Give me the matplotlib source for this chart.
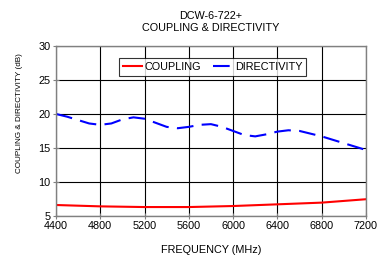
import matplotlib.pyplot as plt

plt.rcParams['font.family'] = ['Liberation Sans', 'DejaVu Sans']

freq_dir = [4400, 4500, 4600, 4700, 4800, 4900, 5000, 5100, 5200, 5300, 5400,
            5500, 5600, 5700, 5800, 5900, 6000, 6100, 6200, 6300, 6400, 6500,
            6600, 6700, 6800, 6900, 7000, 7100, 7200]
directivity = [20.0, 19.6, 19.1, 18.6, 18.4, 18.6, 19.2, 19.5, 19.3, 18.7, 18.1,
               17.9, 18.1, 18.4, 18.5, 18.1, 17.5, 16.9, 16.7, 17.0, 17.4, 17.6,
               17.5, 17.1, 16.7, 16.2, 15.7, 15.2, 14.7]
freq_cpl = [4400, 4800, 5200, 5600, 6000, 6400, 6800, 7200]
coupling = [6.6, 6.4, 6.3, 6.3, 6.45, 6.7, 6.95, 7.45]

x_ticks = [4400, 4800, 5200, 5600, 6000, 6400, 6800, 7200]
y_ticks = [5, 10, 15, 20, 25, 30]

fig = plt.figure(figsize=(3.86, 2.57), dpi=100)
ax = fig.add_axes([0.145, 0.160, 0.803, 0.661])

ax.plot(freq_cpl, coupling, color='#ff0000', lw=1.5, label='COUPLING')
ax.plot(freq_dir, directivity, color='#0000ff', lw=1.5, dashes=(8, 4),
        label='DIRECTIVITY')

ax.set_xlim(4400, 7200)
ax.set_ylim(5, 30)
ax.set_xticks(x_ticks)
ax.set_yticks(y_ticks)
ax.tick_params(labelsize=7.8, length=4, width=0.8, color='#808080', pad=2,
               direction='inout')
ax.grid(True, color='black', lw=0.8)
for s in ax.spines.values():
    s.set_color('#808080')
    s.set_linewidth(1.0)

ax.set_xlabel('FREQUENCY (MHz)', fontsize=7.8, labelpad=10)
ax.set_ylabel('COUPLING & DIRECTIVITY (dB)', fontsize=5.9)
ax.yaxis.set_label_coords(-0.106, 0.606)
ax.set_title('DCW-6-722+\nCOUPLING & DIRECTIVITY', fontsize=7.8, pad=11,
             linespacing=1.25)

leg = ax.legend(loc='upper center', bbox_to_anchor=(0.505, 0.96), ncol=2,
                fontsize=7.8, frameon=True, fancybox=False, handlelength=1.8,
                handletextpad=0.2, columnspacing=1.1, borderpad=0.35)
leg.get_frame().set_edgecolor('black')
leg.get_frame().set_linewidth(0.8)

fig.savefig('out.png', dpi=100)
